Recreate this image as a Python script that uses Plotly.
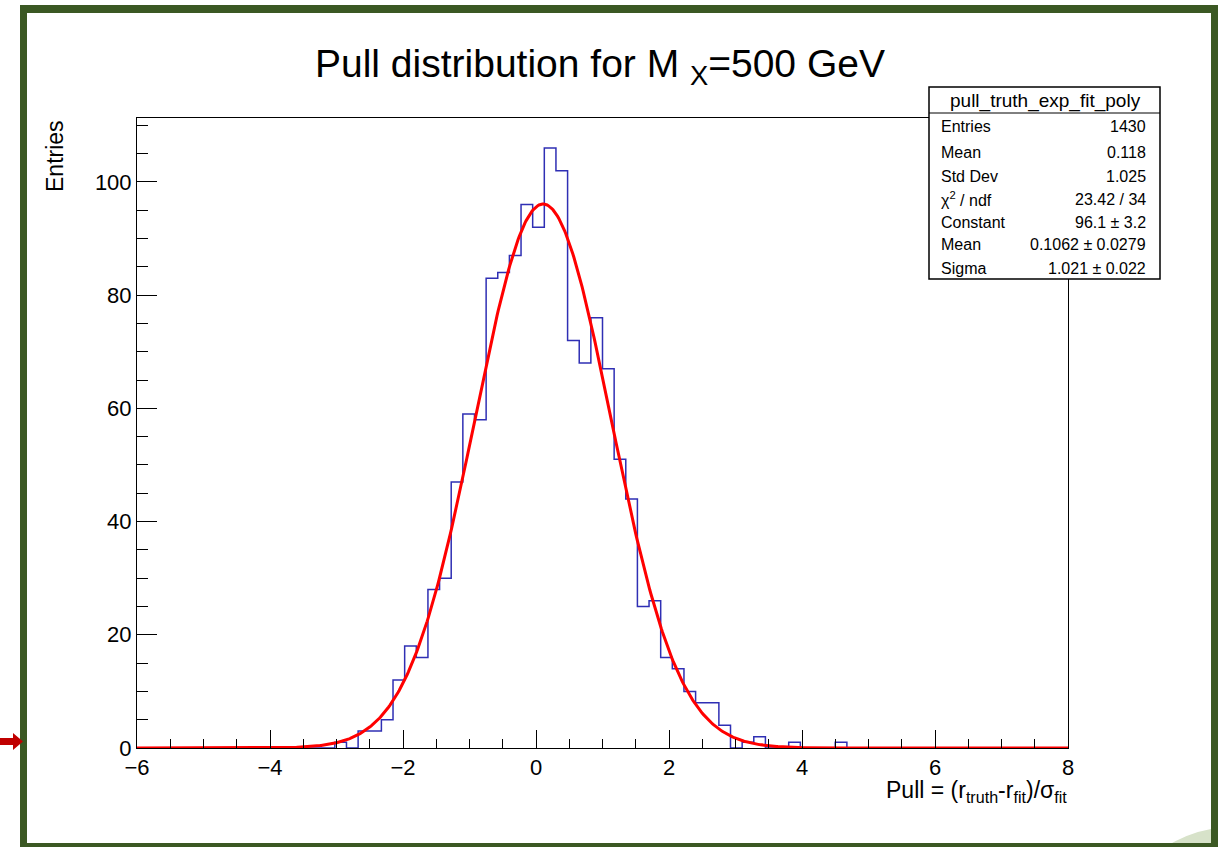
"""
Pull distribution (ROOT-style histogram + gaussian fit) redrawn with Plotly.
"""

import numpy as np
import plotly.graph_objects as go

# histogram: 80 bins from -6 to 8
BIN_LOW, BIN_HIGH, N_BINS = -6.0, 8.0, 80
counts = [0] * 17 + [
    1, 0, 3, 3, 5, 12, 18, 16, 28, 30,
    47, 59, 58, 83, 84, 87, 96, 92, 106, 102,
    72, 68, 76, 67, 51, 44, 25, 26, 16, 14,
    10, 8, 8, 4, 0, 1, 2, 0, 0, 1,
    0, 0, 0, 1,
] + [0] * 19

# gaussian fit parameters (from the stats box)
FIT_CONSTANT = 96.1
FIT_MEAN = 0.1062
FIT_SIGMA = 1.021

stat_title = "pull_truth_exp_fit_poly"
stat_labels = ["Entries", "Mean", "Std Dev", "χ<sup>2</sup> / ndf", "Constant", "Mean", "Sigma"]
stat_values = ["1430", "0.118", "1.025", "23.42 / 34", "96.1 ± 3.2", "0.1062 ± 0.0279", "1.021 ± 0.022"]

x_ticks = [-6, -4, -2, 0, 2, 4, 6, 8]
y_ticks = [0, 20, 40, 60, 80, 100]

FONT = "Liberation Sans, Arial, Helvetica, sans-serif"
GREEN = "#3b5823"

# pixel frame of the plot area inside the 1223x847 page
W, H = 1223, 847
L, R, T, B = 137, 1068, 118, 748


def px(x):
    return (x - L) / (R - L)


def py(y):
    return (B - y) / (B - T)


edges = np.linspace(BIN_LOW, BIN_HIGH, N_BINS + 1)
step_x = list(edges)
step_y = list(counts) + [counts[-1]]

xf = np.linspace(BIN_LOW, BIN_HIGH, 800)
yf = FIT_CONSTANT * np.exp(-0.5 * ((xf - FIT_MEAN) / FIT_SIGMA) ** 2)

fig = go.Figure()
fig.add_trace(go.Scatter(x=step_x, y=step_y, mode="lines", line_shape="hv",
                         line=dict(color="#2f2fb4", width=1.5), hoverinfo="skip"))
fig.add_trace(go.Scatter(x=xf, y=yf, mode="lines",
                         line=dict(color="#ff0000", width=3), hoverinfo="skip"))

shapes = []
# slide border
for x0, y0, x1, y1 in [(20, 5, 27, 847), (20, 5, 1218, 13), (1211, 5, 1218, 847), (20, 843, 1218, 847)]:
    shapes.append(dict(type="rect", xref="paper", yref="paper",
                       x0=px(x0), x1=px(x1), y0=py(y0), y1=py(y1),
                       fillcolor=GREEN, line=dict(width=0), layer="above"))
# pale swoosh bottom right
shapes.append(dict(type="path", xref="paper", yref="paper", layer="below",
                   path=f"M {px(1165)},{py(847)} Q {px(1188)},{py(833)} {px(1211)},{py(829)} "
                        f"L {px(1211)},{py(847)} Z",
                   fillcolor="#d7e2c9", line=dict(width=0)))
# red arrow on the left edge
arrow = [(0, 738), (13, 738), (13, 733), (23, 741.5), (13, 750), (13, 745), (0, 745)]
shapes.append(dict(type="path", xref="paper", yref="paper", layer="above",
                   path="M " + " L ".join(f"{px(a)},{py(b)}" for a, b in arrow) + " Z",
                   fillcolor="#c00000", line=dict(width=0)))
# stats box
shapes.append(dict(type="rect", xref="paper", yref="paper", layer="above",
                   x0=px(929), x1=px(1160), y0=py(87), y1=py(279),
                   fillcolor="white", line=dict(color="black", width=1.5)))
shapes.append(dict(type="line", xref="paper", yref="paper", layer="above",
                   x0=px(929), x1=px(1160), y0=py(113), y1=py(113),
                   line=dict(color="black", width=1)))

annotations = [
    dict(text="Pull distribution for M <sub>X</sub>=500 GeV", x=px(600), y=py(66),
         font=dict(size=39)),
    dict(text="Entries", x=px(55), y=py(118), textangle=-90, yanchor="top",
         font=dict(size=23)),
    dict(text="Pull = (r<sub>truth</sub>-r<sub>fit</sub>)/σ<sub>fit</sub>", x=px(1069), y=py(791),
         xanchor="right", font=dict(size=23)),
    dict(text=stat_title, x=px(1045), y=py(101), font=dict(size=19)),
]
row_y = [127, 152, 176, 199, 222, 245, 268]
for lab, val, yy in zip(stat_labels, stat_values, row_y):
    annotations.append(dict(text=lab, x=px(939), y=py(yy), xanchor="left", font=dict(size=16)))
    annotations.append(dict(text=val, x=px(1148), y=py(yy), xanchor="right", font=dict(size=16)))
for a in annotations:
    a.update(xref="paper", yref="paper", showarrow=False)
    a.setdefault("xanchor", "center")
    a.setdefault("yanchor", "middle")
    a["font"].update(family=FONT, color="black")

axis_common = dict(showgrid=False, zeroline=False, showline=True, mirror=True,
                   linecolor="black", linewidth=1, ticks="inside", tickcolor="black",
                   tickwidth=1, tickfont=dict(family=FONT, size=22, color="black"))

fig.update_layout(
    width=W, height=H, autosize=False,
    margin=dict(l=L, r=W - R, t=T, b=H - B),
    paper_bgcolor="white", plot_bgcolor="white",
    showlegend=False,
    shapes=shapes, annotations=annotations,
    xaxis=dict(range=[BIN_LOW, BIN_HIGH], tickvals=x_ticks, ticklen=18,
               minor=dict(dtick=0.5, ticklen=9, ticks="inside", tickcolor="black"),
               **axis_common),
    yaxis=dict(range=[0, 111.3], tickvals=y_ticks, ticklen=20,
               minor=dict(dtick=5, ticklen=11, ticks="inside", tickcolor="black"),
               **axis_common),
)

# the page's default body margin would shift the figure by 8px
fig.write_html("out.html", config={"displayModeBar": False},
               post_script="document.body.style.margin='0';")
